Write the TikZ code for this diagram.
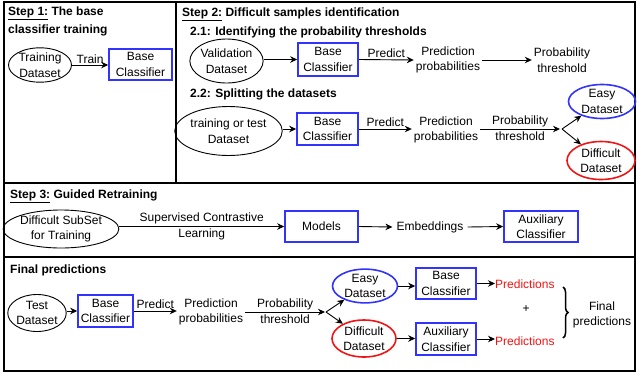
\documentclass[tikz,border=0pt]{standalone}
\usepackage{fontspec}
\setmainfont{Liberation Sans}
\usetikzlibrary{shapes.geometric,arrows.meta,decorations.pathreplacing}
\definecolor{bblue}{RGB}{51,51,255}
\definecolor{rred}{RGB}{240,20,20}
\begin{document}
\begin{tikzpicture}[x=1pt,y=-1pt,
  every node/.style={font=\fontsize{12}{15.5}\selectfont},
  ell/.style={ellipse,draw,line width=0.9pt,inner sep=0pt,align=center},
  bbox/.style={rectangle,draw=bblue,line width=1.6pt,inner sep=0pt,align=center},
  txt/.style={inner sep=0pt,align=center},
  ttl/.style={inner sep=0pt,anchor=west,font=\fontsize{12}{17}\selectfont\bfseries,align=left},
  arr/.style={line width=0.9pt,-{Stealth[length=7pt,width=6.5pt]}},
  frame/.style={line width=2pt}]
\useasboundingbox (0,0) rectangle (637,373);
% frame
\draw[frame] (4,2) rectangle (635,371);
\draw[frame] (4,183) -- (635,183);
\draw[frame] (4,257) -- (635,257);
\draw[frame] (176,2) -- (176,183);

% Step 1
\node[ttl] (t1) at (8,13.5) {\underline{Step 1:} The base};
\node[ttl] (t1b) at (8,30) {classifier training};
\node[ell,minimum width=63pt,minimum height=31pt] (td1) at (40,65) {Training\\Dataset};
\node[bbox,minimum width=63pt,minimum height=31pt] (bc1) at (140.5,64.5) {Base\\Classifier};
\draw[arr] (td1.east) -- node[txt,above=1pt] (trl) {Train} (td1.east -| bc1.west);

% Step 2
\node[ttl] (t2) at (182,14) {\underline{Step 2:} Difficult samples identification};
\node[ttl] (t21) at (190,32) {2.1: Identifying the probability thresholds};
\node[ell,minimum width=73pt,minimum height=44pt] (vd) at (226.5,61) {Validation\\Dataset};
\node[bbox,minimum width=60pt,minimum height=33pt] (bc2) at (328,59.5) {Base\\Classifier};
\node[txt] (pp2) at (448,60) {Prediction\\probabilities};
\node[txt] (pt2) at (562,60) {Probability\\threshold};
\draw[arr] (vd.east |- bc2.west) -- (bc2.west);
\draw[arr] (bc2.east) -- node[txt,above=2pt] (pr2) {Predict} ([xshift=-2pt]pp2.west);
\draw[arr] ([xshift=2pt]pp2.east) -- ([xshift=-2pt]pt2.west);

\node[ttl] (t22) at (190,94) {2.2: Splitting the datasets};
\node[ell,minimum width=97pt,minimum height=49pt] (tt) at (228.5,131) {training or test\\Dataset};
\node[bbox,minimum width=61pt,minimum height=32pt] (bc3) at (327.5,129) {Base\\Classifier};
\node[txt] (pp3) at (446,130) {Prediction\\probabilities};
\node[ell,draw=bblue,line width=1.6pt,minimum width=67pt,minimum height=34pt] (ez3) at (602,101.5) {Easy\\Dataset};
\node[ell,draw=rred,line width=1.6pt,minimum width=68pt,minimum height=38pt] (df3) at (601,160.5) {Difficult\\Dataset};
\coordinate (sp3) at (560,129);
\draw[arr] (tt.east |- bc3.west) -- (bc3.west);
\draw[arr] (bc3.east) -- node[txt,above=2pt] (pr3) {Predict} ([xshift=-2pt]pp3.west |- bc3.east);
\draw[arr] ([xshift=2pt]pp3.east |- sp3) -- node[txt,above=1.5pt] (pb3) {Probability} node[txt,below=2pt] (th3) {threshold} (sp3);
\draw[arr] ([xshift=2pt]sp3) -- (ez3);
\draw[arr] ([xshift=2pt]sp3) -- (df3);

% Step 3
\node[ttl] (t3) at (10,196) {\underline{Step 3:} Guided Retraining};
\node[ell,minimum width=108pt,minimum height=38pt] (ds) at (61,229) {Difficult SubSet\\for Training};
\node[bbox,minimum width=73pt,minimum height=31pt] (mo) at (321.5,226.5) {Models};
\node[txt] (em) at (430,227) {Embeddings};
\node[bbox,minimum width=74pt,minimum height=31pt] (ax) at (541,226.5) {Auxiliary\\Classifier};
\draw[arr] (ds.east |- mo.west) -- node[txt] (scl) {Supervised Contrastive\\Learning} (mo.west);
\draw[arr] (mo.east) -- ([xshift=-4pt]em.west);
\draw[arr] ([xshift=4pt]em.east) -- (ax.west);

% Final predictions
\node[ttl] (t4) at (10,270) {Final predictions};
\node[ell,minimum width=53pt,minimum height=37pt] (te) at (37,313) {Test\\Dataset};
\node[bbox,minimum width=55pt,minimum height=32pt] (bc4) at (105.5,311) {Base\\Classifier};
\node[txt] (pp4) at (211,312) {Prediction\\probabilities};
\coordinate (sp4) at (325,312);
\node[ell,draw=bblue,line width=1.6pt,minimum width=65pt,minimum height=32pt] (ez4) at (365,286) {Easy\\Dataset};
\node[ell,draw=rred,line width=1.6pt,minimum width=64pt,minimum height=37pt] (df4) at (364,338.5) {Difficult\\Dataset};
\node[bbox,minimum width=60pt,minimum height=31pt] (bc5) at (446,283.5) {Base\\Classifier};
\node[bbox,minimum width=60pt,minimum height=32pt] (ax5) at (446,339) {Auxiliary\\Classifier};
\node[txt,text=rred,anchor=west] (pd1) at (495,284) {Predictions};
\node[txt,text=rred,anchor=west] (pd2) at (495,341) {Predictions};
\node[txt] (pl) at (526,309) {+};
\node[txt] (fp) at (602,315) {Final\\predictions};
\draw[arr] (te.east |- bc4.west) -- (bc4.west);
\draw[arr] (bc4.east) -- node[txt,above=2pt] (pr4) {Predict} ([xshift=-2pt]pp4.west |- bc4.east);
\draw[arr] ([xshift=2pt]pp4.east |- sp4) -- node[txt,above=1.5pt] (pb4) {Probability} node[txt,below=2pt] (th4) {threshold} (sp4);
\draw[arr] ([xshift=1pt]sp4) -- (ez4);
\draw[arr] ([xshift=1pt]sp4) -- (df4);
\draw[arr] (ez4.east) -- (ez4.east -| bc5.west);
\draw[arr] (df4.east) -- (df4.east -| ax5.west);
\draw[arr] (bc5.east) -- (pd1.west |- bc5.east);
\draw[arr] (ax5.east) -- (pd2.west |- ax5.east);
\draw[line width=1.5pt,decorate,decoration={brace,amplitude=5pt}] (563,287) -- (563,338);
\end{tikzpicture}
\end{document}
